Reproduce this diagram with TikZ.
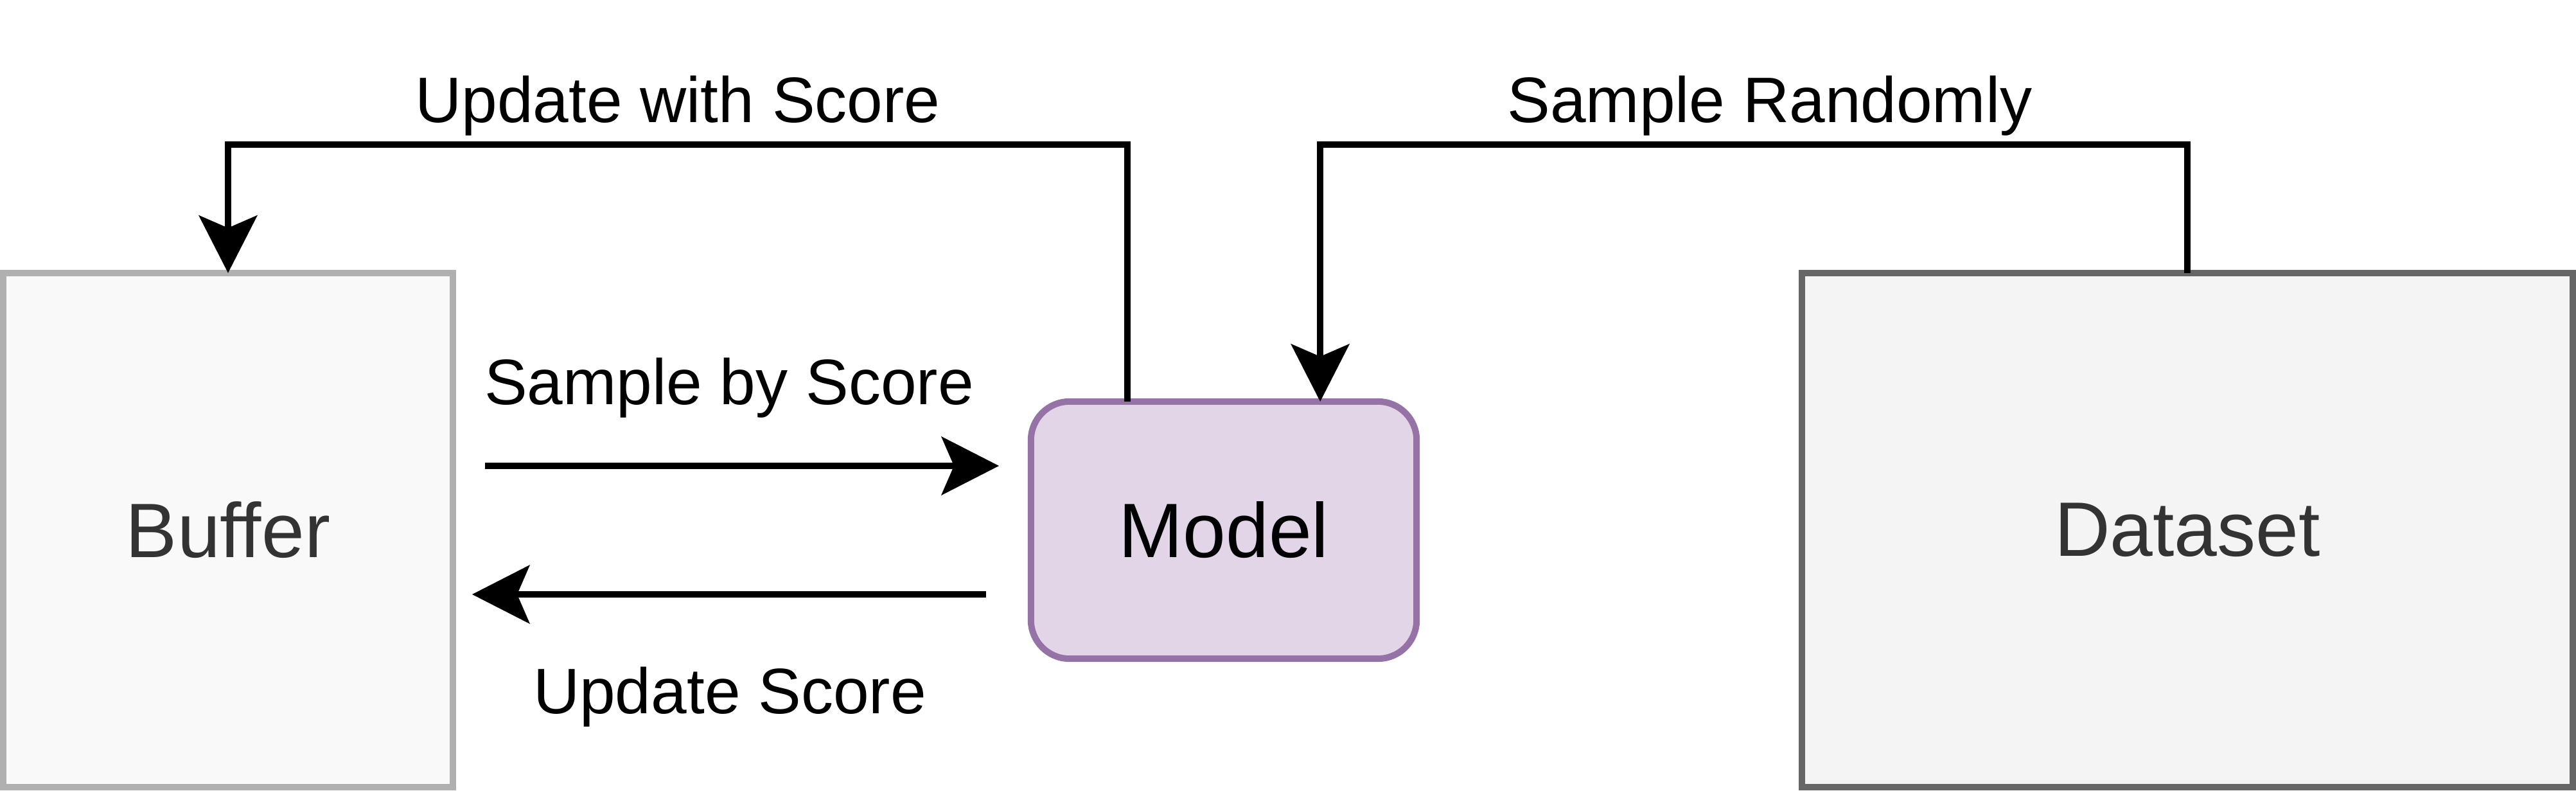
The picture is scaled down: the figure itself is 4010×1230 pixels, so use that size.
\documentclass[tikz,border=0pt]{standalone}
\usepackage{fontspec}
\setmainfont{Liberation Sans}
\usetikzlibrary{arrows.meta}
\definecolor{bufFill}{HTML}{F9F9F9}
\definecolor{bufLine}{HTML}{B0B0B0}
\definecolor{modFill}{HTML}{E1D5E7}
\definecolor{modLine}{HTML}{9673A6}
\definecolor{dsFill}{HTML}{F4F4F4}
\definecolor{dsLine}{HTML}{666666}
\definecolor{boxText}{HTML}{333333}
\tikzset{
  boxbase/.style={rectangle, inner sep=0pt, outer sep=0pt, line width=0.1cm,
    font=\fontsize{34.14pt}{40pt}\selectfont},
  bufbox/.style={boxbase, draw=bufLine, fill=bufFill, text=boxText,
    minimum width=7cm, minimum height=8cm},
  modbox/.style={boxbase, draw=modLine, fill=modFill, text=black,
    rounded corners=0.6cm, minimum width=6cm, minimum height=4cm},
  dsbox/.style={boxbase, draw=dsLine, fill=dsFill, text=boxText,
    minimum width=12cm, minimum height=8cm},
  conn/.style={line width=0.1cm, draw=black,
    -{Stealth[length=0.9cm, width=0.92cm, inset=0.2cm, line width=0pt]}},
  lbl/.style={anchor=base, inner sep=0pt, font=\fontsize{28.45pt}{34pt}\selectfont}
}
\begin{document}
\begin{tikzpicture}[x=0.01cm, y=-0.01cm]
  \useasboundingbox (0,0) rectangle (4010,1230);
  \node[bufbox] (buffer) at (355,825) {Buffer};
  \node[modbox] (model) at (1905,825) {Model};
  \node[dsbox] (dataset) at (3405,825) {Dataset};

  \coordinate (sbsA) at (755,725);
  \coordinate (sbsB) at (1555,725);
  \coordinate (usA) at (1535,925);
  \coordinate (usB) at (735,925);

  \draw[conn] ([xshift=1.5cm]model.north west) -- ++(0,4cm) -| (buffer.north);
  \draw[conn] (dataset.north) -- ++(0,2cm) -| ([xshift=-1.5cm]model.north east);
  \draw[conn] (sbsA) -- (sbsB);
  \draw[conn] (usA) -- (usB);

  \node[lbl] (l1) at (1055,190) {Update with Score};
  \node[lbl] (l2) at (2755,190) {Sample Randomly};
  \node[lbl] (l3) at (1135,629) {Sample by Score};
  \node[lbl] (l4) at (1136,1110) {Update Score};
\end{tikzpicture}
\end{document}
